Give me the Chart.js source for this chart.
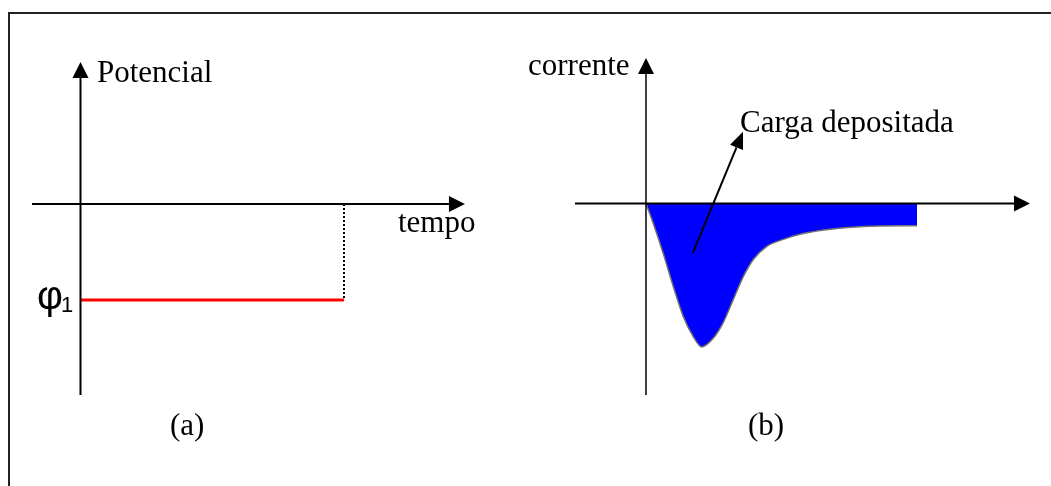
<!DOCTYPE html>
<html>
<head>
<meta charset="utf-8">
<script src="https://cdn.jsdelivr.net/npm/chart.js@4.4.0/dist/chart.umd.min.js"></script>
<style>
body { margin:0; background:#fff; width:1051px; height:486px; overflow:hidden; position:relative; }
#frame { position:absolute; left:8px; top:12px; width:1100px; height:600px; border-top:2px solid #222; border-left:2px solid #222; }
canvas { position:absolute; top:0; }
#chartA { left:0; }
#chartB { left:520px; }
.lbl { position:absolute; font-family:"Liberation Serif","Times New Roman",serif; font-size:31px; line-height:31px; color:#000; white-space:nowrap; }
.sans { font-family:"Liberation Sans", Arial, sans-serif; }
</style>
</head>
<body>
<div id="frame"></div>
<canvas id="chartA" width="520" height="486"></canvas>
<canvas id="chartB" width="531" height="486"></canvas>

<div class="lbl" style="left:97px; top:56px;">Potencial</div>
<div class="lbl" style="left:398px; top:206px;">tempo</div>
<div class="lbl sans" style="left:37px; top:275px; font-size:40px; line-height:40px;">φ</div>
<div class="lbl sans" style="left:61px; top:294px; font-size:22px; line-height:22px;">1</div>
<div class="lbl" style="left:170px; top:409px;">(a)</div>
<div class="lbl" style="left:528px; top:49px;">corrente</div>
<div class="lbl" style="left:740px; top:106px;">Carga depositada</div>
<div class="lbl" style="left:748px; top:409px;">(b)</div>

<script>
// (a) potencial aplicado
var tempoA = [0, 10];
var potencialA = [-1, -1];

// (b) corrente medida
var tempoB = [0, 0.27, 0.64, 1.01, 1.38, 1.75, 2.06, 2.48, 2.85, 3.22, 3.59, 3.96, 4.45, 5.07, 5.80, 6.79, 8.02, 10];
var correnteB = [0, -0.14, -0.35, -0.58, -0.79, -0.93, -1.0, -0.94, -0.83, -0.67, -0.51, -0.39, -0.30, -0.25, -0.21, -0.18, -0.16, -0.155];

function pts(xs, ys) {
	var out = [];
	for (var i = 0; i < xs.length; i++) out.push({x: xs[i], y: ys[i]});
	return out;
}

function seta(ctx, x1, y1, x2, y2, len, half, width) {
	var ang = Math.atan2(y2 - y1, x2 - x1);
	var bx = x2 - Math.cos(ang) * len, by = y2 - Math.sin(ang) * len;
	ctx.lineWidth = width;
	ctx.beginPath();
	ctx.moveTo(x1, y1);
	ctx.lineTo(bx, by);
	ctx.stroke();
	ctx.beginPath();
	ctx.moveTo(x2, y2);
	ctx.lineTo(bx + Math.sin(ang) * half, by - Math.cos(ang) * half);
	ctx.lineTo(bx - Math.sin(ang) * half, by + Math.cos(ang) * half);
	ctx.closePath();
	ctx.fill();
}

// eixos com setas, desenhados em cima dos dados
var eixosPlugin = {
	id: 'eixos',
	afterDatasetsDraw: function(chart, args, o) {
		var ctx = chart.ctx, sx = chart.scales.x, sy = chart.scales.y;
		var x0 = sx.getPixelForValue(0), y0 = sy.getPixelForValue(0);
		ctx.save();
		ctx.strokeStyle = '#000';
		ctx.fillStyle = '#000';
		seta(ctx, sx.getPixelForValue(o.xFrom), y0, sx.getPixelForValue(o.xTo), y0, 16, 8, o.xWidth);
		seta(ctx, x0, sy.getPixelForValue(o.yFrom), x0, sy.getPixelForValue(o.yTo), 16, 8, o.yWidth);
		if (o.nota) {
			seta(ctx, sx.getPixelForValue(o.nota[0]), sy.getPixelForValue(o.nota[1]),
				sx.getPixelForValue(o.nota[2]), sy.getPixelForValue(o.nota[3]), 17, 7, 2);
		}
		ctx.restore();
	}
};

var last = tempoA.length - 1;
var chartA = new Chart(document.getElementById('chartA'), {
	type: 'line',
	data: {
		datasets: [{
			data: pts(tempoA, potencialA),
			borderColor: '#ff0000',
			borderWidth: 3,
			pointRadius: 0,
			fill: false
		}, {
			data: [{x: tempoA[last], y: 0}, {x: tempoA[last], y: potencialA[last]}],
			borderColor: '#000',
			borderWidth: 2,
			borderDash: [2, 2],
			pointRadius: 0,
			fill: false
		}]
	},
	options: {
		responsive: false,
		animation: false,
		events: [],
		layout: {padding: 0},
		plugins: {
			legend: {display: false},
			tooltip: {enabled: false},
			eixos: {xFrom: -1.84, xTo: 14.59, yFrom: -1.99, yTo: 1.48, xWidth: 2, yWidth: 2}
		},
		scales: {
			x: {type: 'linear', display: false, min: -3.055, max: 16.68},
			y: {type: 'linear', display: false, min: -2.9375, max: 2.125}
		}
	},
	plugins: [eixosPlugin]
});

var chartB = new Chart(document.getElementById('chartB'), {
	type: 'line',
	data: {
		datasets: [{
			data: pts(tempoB, correnteB),
			borderColor: '#707070',
			borderWidth: 1.5,
			backgroundColor: '#0000ff',
			fill: 'origin',
			tension: 0.4,
			cubicInterpolationMode: 'monotone',
			pointRadius: 0
		}]
	},
	options: {
		responsive: false,
		animation: false,
		events: [],
		layout: {padding: 0},
		plugins: {
			legend: {display: false},
			tooltip: {enabled: false},
			eixos: {xFrom: -2.62, xTo: 14.17, yFrom: -1.335, yTo: 1.014, xWidth: 2, yWidth: 1.5,
				nota: [1.73, -0.345, 3.58, 0.50]}
		},
		scales: {
			x: {type: 'linear', display: false, min: -4.649, max: 14.945},
			y: {type: 'linear', display: false, min: -1.969, max: 1.418}
		}
	},
	plugins: [eixosPlugin]
});
</script>
</body>
</html>
